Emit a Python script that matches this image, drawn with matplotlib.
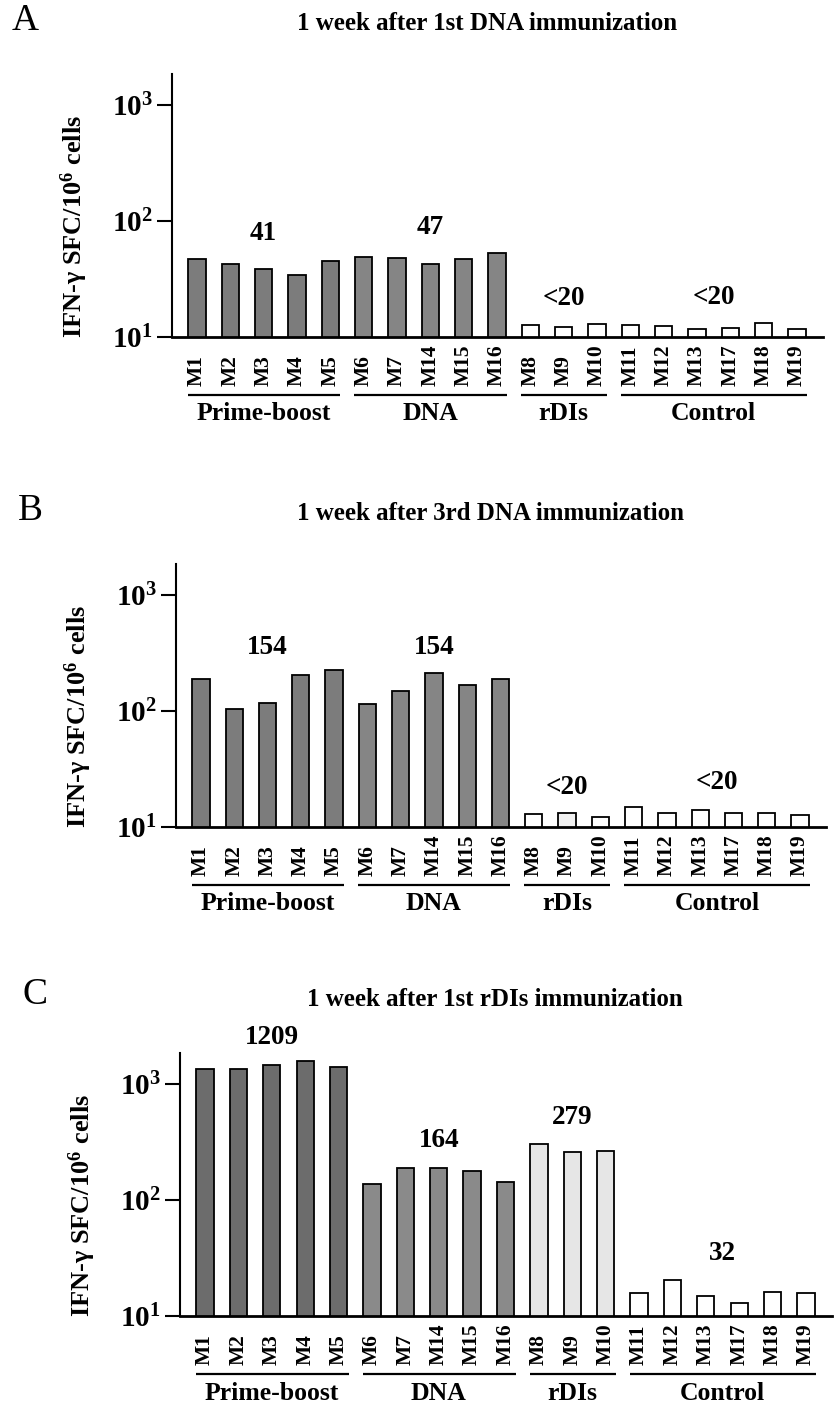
import matplotlib
matplotlib.use("Agg")
import matplotlib.pyplot as plt
import matplotlib.transforms as mtransforms
from matplotlib.ticker import FixedLocator, FuncFormatter, NullLocator
import numpy as np

plt.rcParams['font.family'] = ['Liberation Serif', 'DejaVu Serif']
plt.rcParams['font.weight'] = 'bold'
plt.rcParams['mathtext.fontset'] = 'custom'
plt.rcParams['mathtext.rm'] = 'Liberation Serif'
plt.rcParams['mathtext.bf'] = 'Liberation Serif:bold'
plt.rcParams['mathtext.it'] = 'Liberation Serif:italic'

# ---------------- data ----------------
mice = ["M1", "M2", "M3", "M4", "M5",
        "M6", "M7", "M14", "M15", "M16",
        "M8", "M9", "M10",
        "M11", "M12", "M13", "M17", "M18", "M19"]
groups = ["Prime-boost", "DNA", "rDIs", "Control"]
group_sizes = [5, 5, 3, 6]

panel_letters = ["A", "B", "C"]
panel_titles = ["1 week after 1st DNA immunization",
                "1 week after 3rd DNA immunization",
                "1 week after 1st rDIs immunization"]

values_A = [47, 42.6, 38.3, 34.2, 44.9,
            48.6, 48, 43, 47, 53,
            12.7, 12.2, 12.9,
            12.7, 12.4, 11.7, 12.0, 13.1, 11.8]
values_B = [188, 105, 117, 207, 225,
            115, 148, 212, 168, 188,
            12.9, 13.3, 12.2,
            14.9, 13.2, 14.1, 13.3, 13.1, 12.7]
values_C = [1357, 1353, 1460, 1602, 1421,
            137, 188, 190, 178, 142,
            303, 262, 265,
            15.7, 20.3, 14.9, 12.9, 16.0, 15.9]

group_notes_A = ["41", "47", "<20", "<20"]
group_notes_B = ["154", "154", "<20", "<20"]
group_notes_C = ["1209", "164", "279", "32"]

# ---------------- layout / style ----------------
W, H = 839, 1406
fig = plt.figure(figsize=(W / 100, H / 100), dpi=100)

axes_px = [(172, 823, 74, 337), (176, 826, 564, 827), (180, 832, 1053, 1316)]
letter_px = [(25, 21), (30, 511), (35, 995)]
title_px = [(297, 24), (297, 513), (307, 999)]
# annotation heights (log10 of value position) for each panel
note_logy = [[1.897, 1.948, 1.336, 1.345],
             [2.552, 2.552, 1.345, 1.388],
             [3.405, 2.517, 2.716, 1.543]]

color_sets = [
    ["#7c7c7c"] * 5 + ["#858585"] * 5 + ["white"] * 3 + ["white"] * 6,
    ["#7c7c7c"] * 5 + ["#858585"] * 5 + ["white", "#f0f0f0", "white"] + ["white"] * 6,
    ["#6c6c6c"] * 5 + ["#8a8a8a"] * 5 + ["#e6e6e6"] * 3 + ["white"] * 6,
]
all_values = [values_A, values_B, values_C]
all_notes = [group_notes_A, group_notes_B, group_notes_C]

x = np.arange(len(mice))
starts = np.cumsum([0] + group_sizes[:-1])
ends = starts + np.array(group_sizes) - 1
centers = (starts + ends) / 2.0

fmt = FuncFormatter(lambda v, p: r'$\mathbf{10^{%d}}$' % int(round(np.log10(v))))

for k in range(3):
    l, r, t, b = axes_px[k]
    ax = fig.add_axes([l / W, 1 - b / H, (r - l) / W, (b - t) / H])
    ax.bar(x, all_values[k], width=0.52, color=color_sets[k], edgecolor='black',
           linewidth=1.3, log=True, zorder=2)
    ax.set_yscale('log')
    ax.set_ylim(10, 10 ** 3.27)
    ax.set_xlim(-0.75, 18.78)
    ax.yaxis.set_major_locator(FixedLocator([10, 100, 1000]))
    ax.yaxis.set_minor_locator(NullLocator())
    ax.yaxis.set_major_formatter(fmt)
    ax.set_xticks([])
    for s in ['top', 'right']:
        ax.spines[s].set_visible(False)
    ax.spines['left'].set_linewidth(1.5)
    ax.spines['bottom'].set_linewidth(2.0)
    ax.tick_params(axis='y', which='major', length=11, width=1.5, direction='out',
                   labelsize=21, pad=3)
    ax.set_ylabel('IFN-γ SFC/10$^{\\mathbf{6}}$ cells', fontsize=19, fontweight='bold')
    ax.yaxis.set_label_coords(-82 / (r - l), 0.42)

    # mouse labels
    for i, m in enumerate(mice):
        ax.annotate(m, xy=(i, 0), xycoords=('data', 'axes fraction'),
                    xytext=(0, -49), textcoords='offset pixels',
                    rotation=90, rotation_mode='anchor', ha='left', va='center',
                    fontsize=15.5, fontweight='bold', annotation_clip=False)

    # group underlines and labels
    trans = ax.get_xaxis_transform() + mtransforms.ScaledTranslation(0, -58 / 100, fig.dpi_scale_trans)
    for g, name in enumerate(groups):
        ax.plot([starts[g] - 0.28, ends[g] + 0.3], [0, 0], transform=trans,
                color='black', lw=1.6, clip_on=False, solid_capstyle='butt')
        ax.annotate(name, xy=(centers[g], 0), xycoords=('data', 'axes fraction'),
                    xytext=(0, -77), textcoords='offset pixels',
                    ha='center', va='center', fontsize=18.5, fontweight='bold',
                    annotation_clip=False)

    # group annotations
    for g, note in enumerate(all_notes[k]):
        ax.text(centers[g], 10 ** note_logy[k][g], note, ha='center', va='center',
                fontsize=19.5, fontweight='bold')

    lx, ly = letter_px[k]
    fig.text(lx / W, 1 - ly / H, panel_letters[k], ha='center', va='center',
             fontsize=27, fontweight='normal')
    tx, ty = title_px[k]
    fig.text(tx / W, 1 - ty / H, panel_titles[k], ha='left', va='center',
             fontsize=18, fontweight='bold')

fig.savefig('out.png', dpi=100)
